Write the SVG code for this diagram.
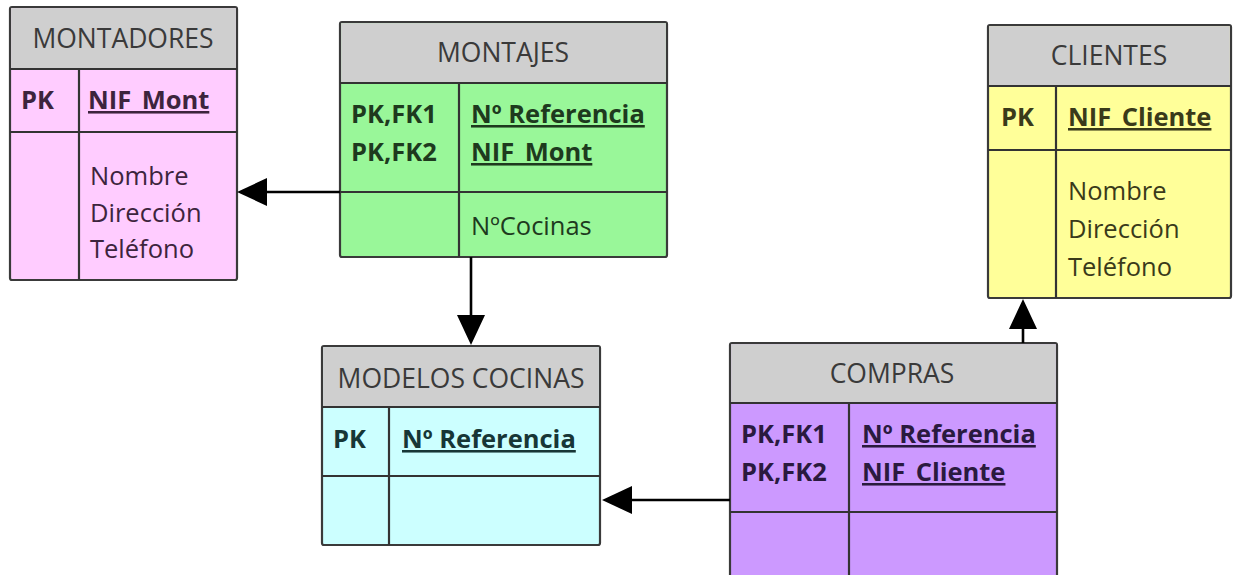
<svg xmlns="http://www.w3.org/2000/svg" width="1233" height="575" viewBox="0 0 1233 575">
<defs>
<style>
.box{stroke:#3a3a3a;stroke-width:2.2}
.hdr{fill:#cfcfcf}
.ln{stroke:#333;stroke-width:2.2;fill:none}
.ht{font-family:"Open Sans","Liberation Sans",sans-serif;font-size:26.5px;fill:#3a3a3a;text-anchor:middle}
.t{font-family:"Open Sans","Liberation Sans",sans-serif;font-size:25.5px}
.b{font-family:"Open Sans","Liberation Sans",sans-serif;font-size:25.5px;font-weight:bold}
.u{text-decoration:underline}
.conn{stroke:#000;stroke-width:2.6;fill:none}
</style>
<marker id="ah" viewBox="0 0 30 28" refX="25" refY="14" markerWidth="30" markerHeight="28" markerUnits="userSpaceOnUse" orient="auto">
<path d="M0,0 L30,14 L0,28 Z" fill="#000"/>
</marker>
</defs>
<rect width="1233" height="575" fill="#fff"/>

<g id="montadores">
<rect class="box" x="10" y="7" width="227" height="273" rx="2" fill="#ffccff"/>
<rect class="hdr" x="11.1" y="8.1" width="224.8" height="61"/>
<line class="ln" x1="10" y1="69" x2="237" y2="69"/>
<line class="ln" x1="79" y1="69" x2="79" y2="280"/>
<line class="ln" x1="10" y1="132" x2="237" y2="132"/>
<text class="ht" x="123" y="48">MONTADORES</text>
<g fill="#3d243d">
<text class="b" x="21" y="109">PK</text>
<text class="b u" x="88" y="109">NIF_Mont</text>
<text class="t" x="90" y="185">Nombre</text>
<text class="t" x="90" y="222">Dirección</text>
<text class="t" x="90" y="258">Teléfono</text>
</g>
</g>

<g id="montajes">
<rect class="box" x="340" y="22" width="327" height="235" rx="2" fill="#99f799"/>
<rect class="hdr" x="341.1" y="23.1" width="324.8" height="60"/>
<line class="ln" x1="340" y1="83" x2="667" y2="83"/>
<line class="ln" x1="459" y1="83" x2="459" y2="257"/>
<line class="ln" x1="340" y1="192" x2="667" y2="192"/>
<text class="ht" x="503" y="62">MONTAJES</text>
<g fill="#1e3a1e">
<text class="b" x="351" y="123">PK,FK1</text>
<text class="b" x="351" y="161">PK,FK2</text>
<text class="b u" x="471" y="123">Nº Referencia</text>
<text class="b u" x="471" y="161">NIF_Mont</text>
<text class="t" x="471" y="235">NºCocinas</text>
</g>
</g>

<g id="clientes">
<rect class="box" x="988" y="25" width="243" height="273" rx="2" fill="#ffff99"/>
<rect class="hdr" x="989.1" y="26.1" width="240.8" height="60"/>
<line class="ln" x1="988" y1="86" x2="1231" y2="86"/>
<line class="ln" x1="1056" y1="86" x2="1056" y2="298"/>
<line class="ln" x1="988" y1="150" x2="1231" y2="150"/>
<text class="ht" x="1109" y="65">CLIENTES</text>
<g fill="#3a3a1a">
<text class="b" x="1001" y="126">PK</text>
<text class="b u" x="1068" y="126">NIF_Cliente</text>
<text class="t" x="1068" y="200">Nombre</text>
<text class="t" x="1068" y="238">Dirección</text>
<text class="t" x="1068" y="276">Teléfono</text>
</g>
</g>

<g id="modelos_cocinas">
<rect class="box" x="322" y="346" width="278" height="199" rx="2" fill="#ccffff"/>
<rect class="hdr" x="323.1" y="347.1" width="275.8" height="60"/>
<line class="ln" x1="322" y1="407" x2="600" y2="407"/>
<line class="ln" x1="389" y1="407" x2="389" y2="545"/>
<line class="ln" x1="322" y1="476" x2="600" y2="476"/>
<text class="ht" x="461" y="388">MODELOS COCINAS</text>
<g fill="#173636">
<text class="b" x="333" y="448">PK</text>
<text class="b u" x="402" y="448">Nº Referencia</text>
</g>
</g>

<g id="compras">
<rect class="box" x="730" y="343" width="327" height="245" rx="2" fill="#cc99ff"/>
<rect class="hdr" x="731.1" y="344.1" width="324.8" height="59"/>
<line class="ln" x1="730" y1="403" x2="1057" y2="403"/>
<line class="ln" x1="849" y1="403" x2="849" y2="588"/>
<line class="ln" x1="730" y1="512" x2="1057" y2="512"/>
<text class="ht" x="892" y="383">COMPRAS</text>
<g fill="#2a1a3f">
<text class="b" x="741" y="443">PK,FK1</text>
<text class="b" x="741" y="481">PK,FK2</text>
<text class="b u" x="862" y="443">Nº Referencia</text>
<text class="b u" x="862" y="481">NIF_Cliente</text>
</g>
</g>

<g id="connectors">
<line class="conn" x1="340" y1="192" x2="242" y2="192" marker-end="url(#ah)"/>
<line class="conn" x1="471" y1="257" x2="471" y2="340" marker-end="url(#ah)"/>
<line class="conn" x1="730" y1="500" x2="607" y2="500" marker-end="url(#ah)"/>
<line class="conn" x1="1023" y1="343" x2="1023" y2="304" marker-end="url(#ah)"/>
</g>
</svg>
